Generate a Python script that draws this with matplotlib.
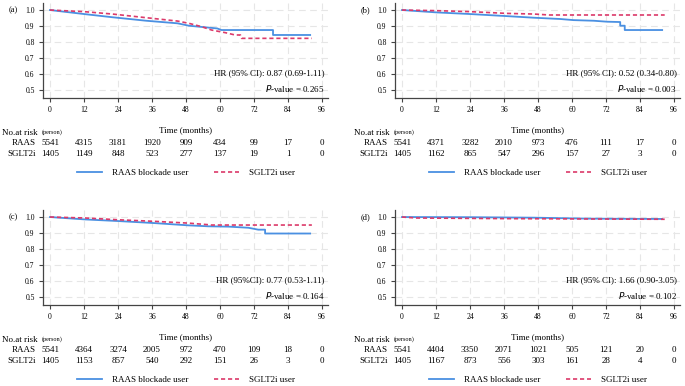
import matplotlib
matplotlib.use('Agg')
import matplotlib.pyplot as plt
import matplotlib.transforms as mtransforms

plt.rcParams['font.family'] = ['Liberation Serif', 'DejaVu Serif']

W, H = 685, 386

# --- data ---
panel_labels = ['(a)', '(b)', '(c)', '(d)']
hr_texts = ['HR (95% CI): 0.87 (0.69-1.11)', 'HR (95% CI): 0.52 (0.34-0.80)',
            'HR (95%CI): 0.77 (0.53-1.11)', 'HR (95% CI): 1.66 (0.90-3.05)']
p_values = ['0.265', '0.003', '0.164', '0.102']

risk_times = [0, 12, 24, 36, 48, 60, 72, 84, 96]
raas_risk = [[5541, 4315, 3181, 1920, 909, 434, 99, 17, 0],
             [5541, 4371, 3282, 2010, 973, 476, 111, 17, 0],
             [5541, 4364, 3274, 2005, 972, 470, 109, 18, 0],
             [5541, 4404, 3350, 2071, 1021, 505, 121, 20, 0]]
sglt_risk = [[1405, 1149, 848, 523, 277, 137, 19, 1, 0],
             [1405, 1162, 865, 547, 296, 157, 27, 3, 0],
             [1405, 1153, 857, 540, 292, 151, 26, 3, 0],
             [1405, 1167, 873, 556, 303, 161, 28, 4, 0]]

# survival curves (months, cumulative survival); repeated times are the vertical drops
raas_t_a = [0, 12, 22, 34, 45, 49, 59, 60.5, 78.7, 78.7, 91.8]
raas_s_a = [1.0, 0.975, 0.955, 0.933, 0.917, 0.902, 0.885, 0.875, 0.875, 0.844, 0.844]
sglt_t_a = [0, 12, 22, 34, 45, 49, 53.5, 57, 62, 65.3, 67.2, 67.6, 92.4]
sglt_s_a = [1.0, 0.99, 0.975, 0.952, 0.931, 0.917, 0.896, 0.875, 0.858, 0.844, 0.844, 0.823, 0.823]

raas_t_b = [0, 12.4, 24, 37, 46.5, 55.8, 60.5, 67.7, 72.4, 77, 77, 78.6, 78.6, 91.8]
raas_s_b = [1.0, 0.985, 0.975, 0.962, 0.952, 0.944, 0.937, 0.933, 0.927, 0.925, 0.902, 0.902, 0.875, 0.875]
sglt_t_b = [0, 12.4, 24, 37, 46.5, 52, 92.7]
sglt_s_b = [1.0, 0.996, 0.99, 0.979, 0.975, 0.969, 0.969]

raas_t_c = [0, 12.4, 24, 37, 48.8, 55.9, 63, 70, 73.5, 75.9, 75.9, 91.8]
raas_s_c = [1.0, 0.985, 0.975, 0.962, 0.948, 0.942, 0.94, 0.933, 0.921, 0.921, 0.897, 0.897]
sglt_t_c = [0, 12.4, 24, 37, 48.8, 55.9, 57, 92.4]
sglt_s_c = [1.0, 0.994, 0.983, 0.973, 0.962, 0.952, 0.95, 0.95]

raas_t_d = [0, 24, 46.5, 66, 91.8]
raas_s_d = [1.0, 0.999, 0.996, 0.99, 0.988]
sglt_t_d = [0, 5, 37, 66, 92.7]
sglt_s_d = [1.0, 0.994, 0.99, 0.988, 0.986]

raas_t = [raas_t_a, raas_t_b, raas_t_c, raas_t_d]
raas_s = [raas_s_a, raas_s_b, raas_s_c, raas_s_d]
sglt_t = [sglt_t_a, sglt_t_b, sglt_t_c, sglt_t_d]
sglt_s = [sglt_s_a, sglt_s_b, sglt_s_c, sglt_s_d]

BLUE = '#4a90e2'
RED = '#dc3a6a'
FS = 6.5

fig = plt.figure(figsize=(W / 100, H / 100), dpi=100)

# panel origins in pixels (left of axes, top offset)
origins = [(43, 0), (395, 0), (43, 207), (395, 207)]


def fy(py):
    return 1 - py / H


for i, (x0, y0) in enumerate(origins):
    ax = fig.add_axes([x0 / W, fy(y0 + 98), 285 / W, 95 / H])
    ax.set_xlim(-2.47, 98.1)
    ax.set_ylim(0.45, 1.044)
    ax.plot(raas_t[i], raas_s[i], color=BLUE, lw=1.3, label='RAAS blockade user')
    ax.plot(sglt_t[i], sglt_s[i], color=RED, lw=1.2, ls=(0, (2.5, 1.7)), label='SGLT2i user')

    ax.set_xticks(risk_times)
    ax.set_yticks([0.5, 0.6, 0.7, 0.8, 0.9, 1.0])
    ax.set_yticklabels(['0.5', '0.6', '0.7', '0.8', '0.9', '1.0'])
    ax.tick_params(labelsize=5.5, length=3, width=0.8, pad=3, color='#444444')
    ax.grid(True, color='#e6e6e6', ls=(0, (6, 4)), lw=0.8)
    ax.set_axisbelow(True)
    for s in ['top', 'right']:
        ax.spines[s].set_visible(False)
    for s in ['left', 'bottom']:
        ax.spines[s].set_color('#444444')
        ax.spines[s].set_linewidth(0.9)

    ax.text(97, 0.605, hr_texts[i], ha='right', va='center', fontsize=FS)
    ax.text(97, 0.51, '$\\it{P}$-value = ' + p_values[i], ha='right', va='center', fontsize=FS)

    fig.text((x0 - 34) / W, fy(y0 + 10), panel_labels[i], ha='left', va='center', fontsize=6)

    tr = mtransforms.blended_transform_factory(ax.transData, fig.transFigure)
    ax.text(48, fy(y0 + 130), 'Time (months)', transform=tr, ha='center', va='center', fontsize=FS)
    fig.text((x0 - 41) / W, fy(y0 + 133), 'No.at risk', ha='left', va='center', fontsize=FS)
    fig.text((x0 - 1) / W, fy(y0 + 132), '(person)', ha='left', va='center', fontsize=4.5)
    fig.text((x0 - 7) / W, fy(y0 + 143), 'RAAS', ha='right', va='center', fontsize=FS)
    fig.text((x0 - 7) / W, fy(y0 + 154), 'SGLT2i', ha='right', va='center', fontsize=FS)
    for t, r, s in zip(risk_times, raas_risk[i], sglt_risk[i]):
        ax.text(t, fy(y0 + 143), str(r), transform=tr, ha='center', va='center', fontsize=FS)
        ax.text(t, fy(y0 + 154), str(s), transform=tr, ha='center', va='center', fontsize=FS)

    ax.legend(loc='center', bbox_to_anchor=(48, fy(y0 + 173)), bbox_transform=tr, ncol=2,
              frameon=False, fontsize=FS, handlelength=2.8, handletextpad=1.1,
              columnspacing=2.8, borderpad=0, borderaxespad=0)

fig.savefig('out.png', dpi=100)
